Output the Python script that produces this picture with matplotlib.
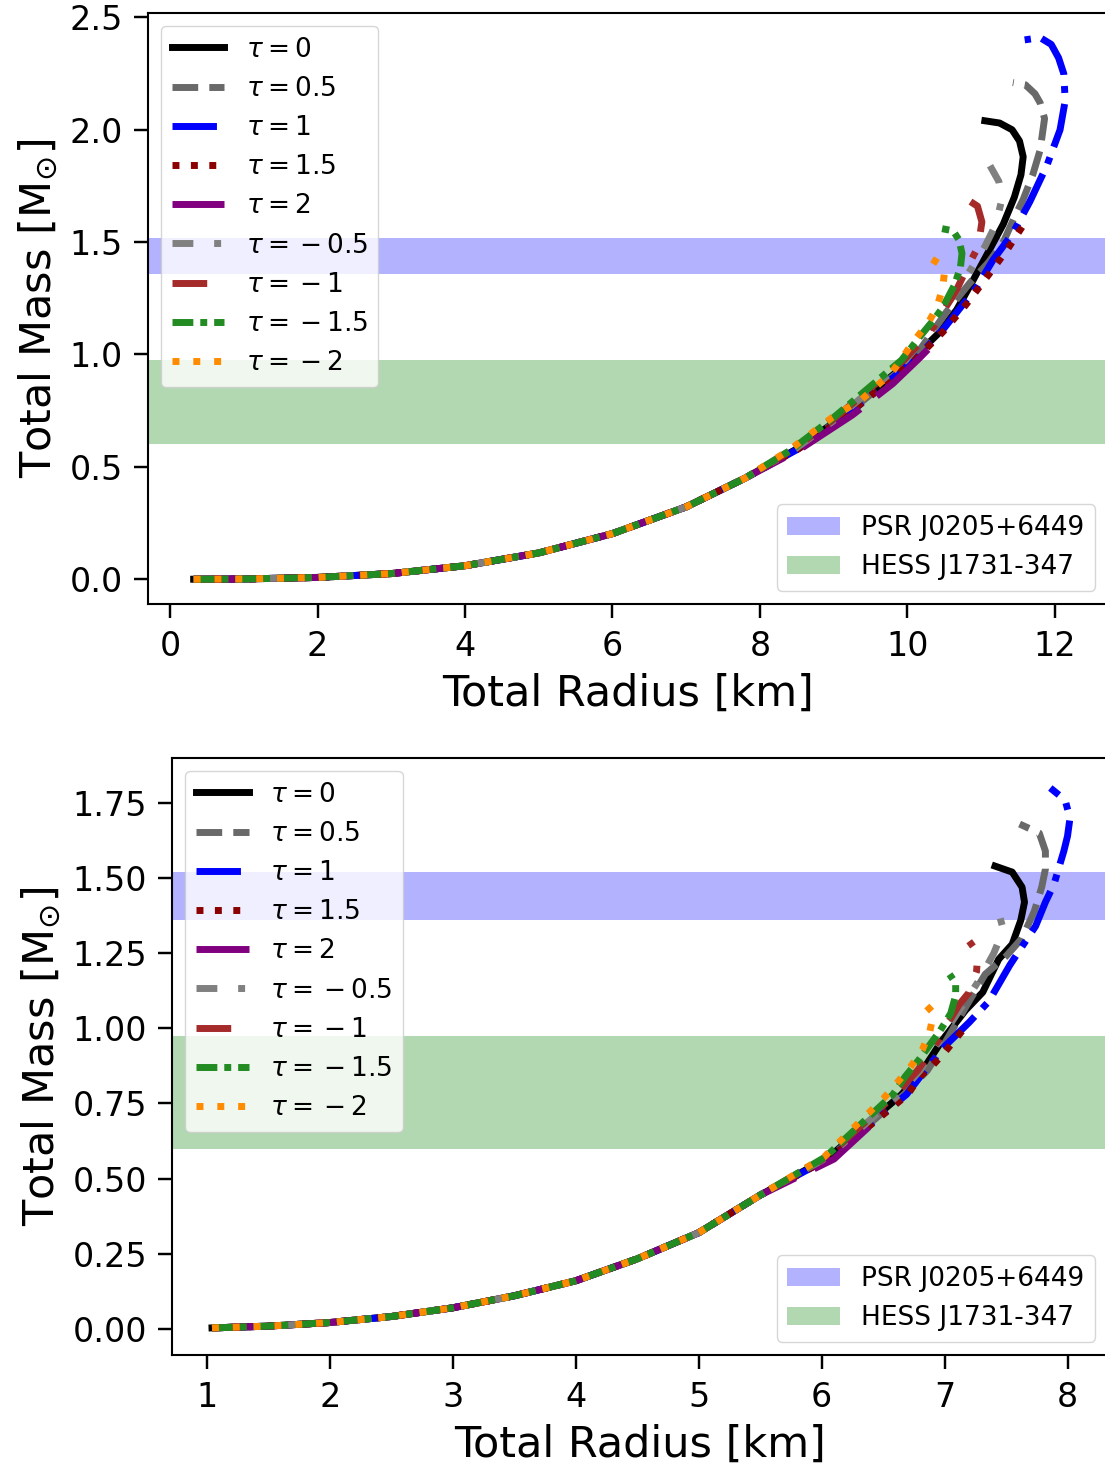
import matplotlib
matplotlib.use('Agg')
import matplotlib.pyplot as plt
from matplotlib import rcParams

# Legend labels / styles, in drawing order
TAUS = ['0', '0.5', '1', '1.5', '2', '{}-0.5', '{}-1', '{}-1.5', '{}-2']
COLORS = ['black', 'dimgray', 'blue', 'darkred', 'purple',
          'gray', 'brown', 'forestgreen', 'darkorange']
STYLES = ['-', '--', '-.', ':', (0, (10, 3)),
          (0, (3, 3, 1, 3)), (0, (5, 3, 1, 3)), (0, (3, 1, 1, 1)), (0, (1, 2))]

# Observational bands (solar masses)
PSR_BAND = (1.36, 1.52)
HESS_BAND = (0.60, 0.975)

# ---------------- top panel: shared low-mass branch ----------------
TOP_LOW_R = [0.32, 1.0, 2.0, 3.0, 4.0, 5.0, 6.0, 7.0, 7.8]
TOP_LOW_M = [0.0, 0.001, 0.008, 0.025, 0.06, 0.117, 0.203, 0.322, 0.45]

# upper branches, one per tau (same order as TAUS)
TOP_R = [
    [8.5, 9.1, 10.05, 10.44, 10.67, 10.89, 11.12, 11.30, 11.45, 11.54, 11.57, 11.52, 11.42, 11.25, 11.05],
    [8.5, 9.12, 10.07, 10.53, 10.85, 11.10, 11.30, 11.45, 11.57, 11.70, 11.80, 11.86, 11.80, 11.73, 11.60, 11.43],
    [8.52, 9.14, 10.1, 10.48, 10.94, 11.16, 11.43, 11.66, 11.89, 12.07, 12.14, 12.12, 12.05, 11.95, 11.80, 11.59],
    [8.52, 9.14, 10.1, 10.48, 10.79, 11.09, 11.36, 11.64],
    [8.55, 9.25, 9.80, 10.15, 10.47],
    [8.48, 9.06, 9.98, 10.38, 10.75, 11.05, 11.20, 11.28, 11.24, 11.12],
    [8.46, 9.03, 9.95, 10.31, 10.67, 10.80, 10.96, 11.01, 10.95, 10.81],
    [8.44, 9.0, 9.92, 10.17, 10.37, 10.48, 10.64, 10.72, 10.74, 10.70, 10.62, 10.47],
    [8.42, 8.98, 9.38, 9.79, 10.10, 10.28, 10.40, 10.48, 10.50, 10.45, 10.28],
]
TOP_M = [
    [0.58, 0.72, 0.975, 1.10, 1.20, 1.33, 1.47, 1.58, 1.70, 1.80, 1.88, 1.95, 2.00, 2.03, 2.04],
    [0.58, 0.72, 0.975, 1.19, 1.32, 1.41, 1.50, 1.61, 1.69, 1.80, 1.91, 2.05, 2.12, 2.16, 2.20, 2.21],
    [0.58, 0.72, 0.975, 1.11, 1.30, 1.42, 1.54, 1.68, 1.84, 2.00, 2.13, 2.25, 2.32, 2.38, 2.41, 2.40],
    [0.58, 0.72, 0.975, 1.10, 1.22, 1.35, 1.47, 1.61],
    [0.58, 0.73, 0.87, 0.98, 1.087],
    [0.58, 0.72, 0.975, 1.15, 1.32, 1.48, 1.58, 1.69, 1.77, 1.84],
    [0.58, 0.72, 0.975, 1.10, 1.29, 1.38, 1.48, 1.59, 1.66, 1.69],
    [0.58, 0.72, 0.975, 1.08, 1.16, 1.21, 1.31, 1.39, 1.45, 1.51, 1.55, 1.56],
    [0.58, 0.72, 0.80, 0.92, 1.065, 1.14, 1.21, 1.30, 1.36, 1.40, 1.435],
]

# ---------------- bottom panel: shared low-mass branch ----------------
BOT_LOW_R = [1.04, 1.5, 2.0, 2.5, 3.0, 3.5, 4.0, 4.5, 5.0, 5.5]
BOT_LOW_M = [0.003, 0.009, 0.021, 0.041, 0.07, 0.11, 0.16, 0.233, 0.32, 0.445]

BOT_R = [
    [6.06, 6.65, 6.82, 6.98, 7.17, 7.31, 7.44, 7.55, 7.62, 7.65, 7.63, 7.55, 7.41],
    [6.07, 6.67, 6.86, 7.0, 7.17, 7.33, 7.50, 7.63, 7.73, 7.79, 7.82, 7.82, 7.77, 7.61],
    [6.08, 6.69, 6.84, 7.0, 7.20, 7.36, 7.53, 7.61, 7.74, 7.82, 7.89, 7.97, 8.0, 8.02, 7.98, 7.86],
    [6.08, 6.70, 6.80, 6.91, 7.0, 7.10, 7.20],
    [6.1, 6.51],
    [6.05, 6.63, 6.80, 6.96, 7.12, 7.28, 7.40, 7.45, 7.47, 7.45, 7.39],
    [6.04, 6.60, 6.78, 6.95, 7.0, 7.12, 7.20, 7.26, 7.27, 7.20],
    [6.03, 6.58, 6.68, 6.79, 6.96, 7.05, 7.09, 7.09, 7.04],
    [6.02, 6.51, 6.72, 6.82, 6.88, 6.91, 6.82],
]
BOT_M = [
    [0.572, 0.78, 0.86, 0.96, 1.06, 1.12, 1.23, 1.28, 1.36, 1.42, 1.47, 1.52, 1.54],
    [0.572, 0.78, 0.86, 0.95, 1.07, 1.18, 1.24, 1.30, 1.39, 1.47, 1.53, 1.59, 1.65, 1.68],
    [0.572, 0.78, 0.86, 0.94, 1.02, 1.09, 1.21, 1.26, 1.34, 1.42, 1.48, 1.59, 1.64, 1.70, 1.76, 1.80],
    [0.572, 0.78, 0.84, 0.88, 0.92, 0.97, 1.02],
    [0.565, 0.72],
    [0.572, 0.78, 0.86, 0.96, 1.06, 1.16, 1.25, 1.30, 1.34, 1.37, 1.40],
    [0.572, 0.78, 0.86, 0.96, 1.00, 1.08, 1.12, 1.19, 1.25, 1.29],
    [0.572, 0.78, 0.84, 0.895, 0.99, 1.05, 1.11, 1.15, 1.18],
    [0.572, 0.77, 0.87, 0.93, 0.99, 1.05, 1.09],
]

LINE_WIDTH = 5.0


def configure_plot_style():
    rcParams.update({
        'font.size': 19,
        'axes.labelsize': 31,
        'xtick.labelsize': 24,
        'ytick.labelsize': 24,
        'legend.fontsize': 19,
        'axes.linewidth': 1.5,
        'xtick.major.width': 1.75,
        'ytick.major.width': 1.75,
        'xtick.major.size': 10,
        'ytick.major.size': 10,
        'xtick.major.pad': 9,
        'ytick.major.pad': 8,
    })


def draw_panel(ax, low_r, low_m, r_sets, m_sets, xlim, ylim, xticks, yticks, yfmt):
    ax.axhspan(*PSR_BAND, color='blue', alpha=0.3, lw=0, label='PSR J0205+6449')
    ax.axhspan(*HESS_BAND, color='green', alpha=0.3, lw=0, label='HESS J1731-347')

    handles = []
    for tau, c, ls, r, m in zip(TAUS, COLORS, STYLES, r_sets, m_sets):
        line, = ax.plot(low_r + r, low_m + m, color=c, linestyle=ls,
                        linewidth=LINE_WIDTH, label=r'$\tau = %s$' % tau)
        handles.append(line)

    ax.set_xlim(*xlim)
    ax.set_ylim(*ylim)
    ax.set_xticks(xticks)
    ax.set_yticks(yticks)
    ax.set_yticklabels([yfmt % v for v in yticks])
    ax.set_xlabel('Total Radius [km]', labelpad=7)
    ax.set_ylabel(r'Total Mass [M$_{\odot}$]', labelpad=7)

    leg1 = ax.legend(handles=handles, loc='upper left')
    ax.add_artist(leg1)
    spans = [h for h in ax.patches]
    ax.legend(handles=spans, loc='lower right')


def main():
    configure_plot_style()
    fig = plt.figure(figsize=(11.05, 14.68), dpi=100)

    ax_top = fig.add_axes([0.1339, 0.5886, 0.8688, 0.4026])
    draw_panel(ax_top, TOP_LOW_R, TOP_LOW_M, TOP_R, TOP_M,
               (-0.3, 12.72), (-0.11, 2.52),
               [0, 2, 4, 6, 8, 10, 12], [0.0, 0.5, 1.0, 1.5, 2.0, 2.5], '%.1f')

    ax_bot = fig.add_axes([0.1557, 0.0770, 0.8471, 0.4067])
    draw_panel(ax_bot, BOT_LOW_R, BOT_LOW_M, BOT_R, BOT_M,
               (0.715, 8.33), (-0.087, 1.90),
               [1, 2, 3, 4, 5, 6, 7, 8], [0.0, 0.25, 0.5, 0.75, 1.0, 1.25, 1.5, 1.75], '%.2f')

    fig.savefig('out.png', dpi=100)
    plt.close(fig)


if __name__ == '__main__':
    main()
